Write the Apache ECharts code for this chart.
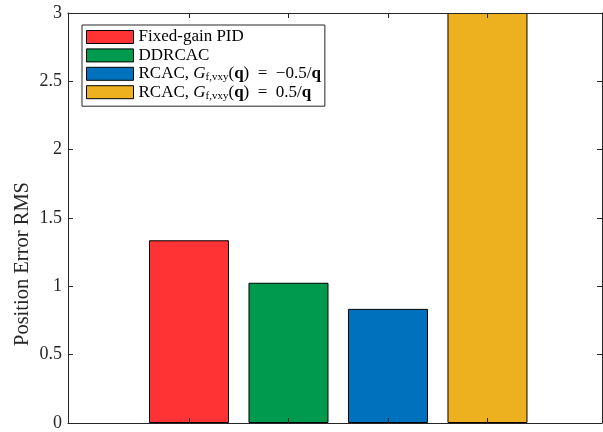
<!DOCTYPE html>
<html>
<head>
<meta charset="utf-8">
<script src="https://cdn.jsdelivr.net/npm/echarts@6/dist/echarts.min.js"></script>
<style>
  html, body { margin: 0; padding: 0; background: #fff; }
  #chart { width: 603px; height: 432px; }
</style>
</head>
<body>
<div id="chart"></div>
<script>
// Controller names, bar positions and the RMS position error of each run
const seriesNames = [
  'Fixed-gain PID',
  'DDRCAC',
  'RCAC, G_f,vxy(q) = -0.5/q',
  'RCAC, G_f,vxy(q) = 0.5/q'
];
const barPositions = [1, 2, 3, 4];
const rmsValues = [1.337, 1.026, 0.835, 3.0];
const barColors = ['#FF3333', '#009A4E', '#0072BD', '#EDB120'];
const yTicks = [0, 0.5, 1, 1.5, 2, 2.5, 3];

// Legend labels with math styling (italic G, subscript, bold q)
const sp = '\u2002';
const legendRich = {
  'Fixed-gain PID': '{n|Fixed-gain PID}',
  'DDRCAC': '{n|DDRCAC}',
  'RCAC, G_f,vxy(q) = -0.5/q': '{n|RCAC, }{i|G}{s|f,vxy}{n|(}{b|q}{n|)' + sp + '=' + sp + '\u22120.5/}{b|q}',
  'RCAC, G_f,vxy(q) = 0.5/q': '{n|RCAC, }{i|G}{s|f,vxy}{n|(}{b|q}{n|)' + sp + '=' + sp + '0.5/}{b|q}'
};

const serif = "'Liberation Serif', 'Times New Roman', serif";
const axisColor = '#262626';

const chart = echarts.init(document.getElementById('chart'), null, { renderer: 'canvas' });

const series = seriesNames.map((name, k) => ({
  name: name,
  type: 'bar',
  xAxisIndex: 0,
  yAxisIndex: 0,
  barWidth: 80,
  barGap: '-100%',
  itemStyle: { color: barColors[k], borderColor: '#000', borderWidth: 1 },
  emphasis: { disabled: true },
  data: [[barPositions[k], rmsValues[k]]]
}));

const tickCommon = { show: true, inside: true, length: 5, lineStyle: { color: axisColor, width: 1 } };

chart.setOption({
  animation: false,
  backgroundColor: '#fff',
  grid: { left: 68, top: 13, right: 1, bottom: 6, containLabel: false },
  legend: {
    orient: 'vertical',
    left: 82,
    top: 25,
    padding: [3, 4, 5, 4],
    itemWidth: 47,
    itemHeight: 13,
    itemGap: 0.4,
    backgroundColor: '#fff',
    borderColor: '#262626',
    borderWidth: 1,
    borderRadius: 0,
    selectedMode: false,
    icon: 'rect',
    itemStyle: { borderColor: '#000', borderWidth: 1 },
    data: seriesNames,
    formatter: name => legendRich[name],
    textStyle: {
      fontFamily: serif,
      fontSize: 17,
      color: '#000',
      lineHeight: 18,
      rich: {
        n: { fontFamily: serif, fontSize: 17, color: '#000', lineHeight: 18 },
        i: { fontFamily: serif, fontSize: 17, fontStyle: 'italic', color: '#000', lineHeight: 18 },
        b: { fontFamily: serif, fontSize: 17, fontWeight: 'bold', color: '#000', lineHeight: 18 },
        s: { fontFamily: serif, fontSize: 11, color: '#000', lineHeight: 11, verticalAlign: 'bottom' }
      }
    }
  },
  xAxis: [
    {
      type: 'value',
      position: 'bottom',
      z: 5,
      min: -0.216,
      max: 5.151,
      axisLine: { show: true, onZero: false, lineStyle: { color: axisColor, width: 1 } },
      axisTick: Object.assign({ customValues: barPositions }, tickCommon),
      axisLabel: { show: false },
      splitLine: { show: false }
    },
    {
      type: 'value',
      position: 'top',
      z: 5,
      min: -0.216,
      max: 5.151,
      axisLine: { show: true, onZero: false, lineStyle: { color: axisColor, width: 1 } },
      axisTick: Object.assign({ customValues: barPositions }, tickCommon),
      axisLabel: { show: false },
      splitLine: { show: false }
    }
  ],
  yAxis: [
    {
      type: 'value',
      position: 'left',
      z: 5,
      min: 0,
      max: 3,
      interval: 0.5,
      axisLine: { show: true, onZero: false, lineStyle: { color: axisColor, width: 1 } },
      axisTick: Object.assign({ customValues: yTicks }, tickCommon),
      axisLabel: {
        show: true,
        customValues: yTicks,
        margin: 6,
        fontFamily: serif,
        fontSize: 18,
        color: '#262626',
        formatter: v => String(v)
      },
      splitLine: { show: false }
    },
    {
      type: 'value',
      position: 'right',
      z: 5,
      min: 0,
      max: 3,
      interval: 0.5,
      axisLine: { show: true, onZero: false, lineStyle: { color: axisColor, width: 1 } },
      axisTick: Object.assign({ customValues: yTicks }, tickCommon),
      axisLabel: { show: false },
      splitLine: { show: false }
    }
  ],
  graphic: [
    {
      type: 'text',
      x: 23,
      y: 264,
      rotation: Math.PI / 2,
      style: {
        text: 'Position Error RMS',
        fontFamily: serif,
        fontSize: 20.5,
        fill: '#262626',
        align: 'center',
        verticalAlign: 'middle'
      }
    }
  ],
  series: series
});
</script>
</body>
</html>
